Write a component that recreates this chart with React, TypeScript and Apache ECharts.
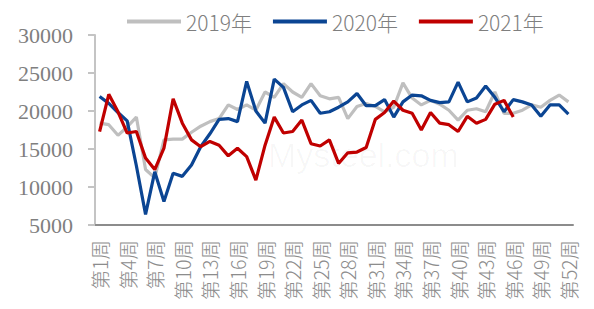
import React, { useEffect, useRef } from "react";
import * as echarts from "echarts";

const weeks: string[] = Array.from({ length: 52 }, (_, i) => `第${i + 1}周`);

const legendNames = ["2019年", "2020年", "2021年"];

const data2019: number[] = [
  18400, 18200, 16800, 17900, 19200, 12300, 11200, 16200, 16300, 16300,
  17200, 18000, 18600, 19000, 20800, 20200, 20800, 20100, 22500, 21800,
  23600, 22500, 21800, 23600, 22000, 21600, 21800, 19000, 20600, 21000,
  20600, 19900, 20500, 23700, 21700, 20800, 21400, 20900, 20100, 18800,
  20100, 20300, 19900, 22500, 19700, 19700, 20100, 20800, 20500, 21400,
  22100, 21200,
];

const data2020: number[] = [
  21900, 21000, 19800, 18700, 12800, 6400, 12000, 8100, 11800, 11400,
  12900, 15300, 17000, 18900, 19000, 18600, 23900, 20000, 18400, 24200,
  23100, 19900, 20800, 21400, 19700, 19900, 20500, 21200, 22300, 20700,
  20700, 21500, 19200, 21200, 22100, 22000, 21400, 21100, 21200, 23800,
  21200, 21700, 23300, 21800, 19900, 21500, 21200, 20800, 19300, 20800,
  20800, 19600,
];

const data2021: number[] = [
  17300, 22200, 19900, 17100, 17300, 13800, 12300, 15100, 21600, 18400,
  16200, 15300, 16000, 15500, 14100, 15100, 14000, 10900, 15500, 19200,
  17100, 17300, 18800, 15700, 15400, 16200, 13100, 14500, 14600, 15200,
  18900, 19800, 21300, 20100, 19700, 17500, 19800, 18400, 18200, 17300,
  19300, 18400, 18900, 20900, 21400, 19200,
];

const colors = ["#bfbfbf", "#0b4593", "#c00000"];

export default function App() {
  const ref = useRef<HTMLDivElement>(null);
  useEffect(() => {
    document.body.style.margin = "0";
    if (!ref.current) return;
    const chart = echarts.init(ref.current, undefined, { renderer: "svg" });
    const seriesData = [data2019, data2020, data2021];
    chart.setOption({
      animation: false,
      backgroundColor: "#ffffff",
      color: colors,
      graphic: [
        {
          type: "text",
          left: 268,
          top: 138,
          z: 0,
          style: {
            text: "Mysteel.com",
            fontSize: 34,
            fontFamily: "Arial, Liberation Sans",
            fill: "rgba(0,0,0,0.03)",
          },
        },
      ],
      legend: {
        left: 122,
        top: 6,
        icon: "rect",
        itemWidth: 54,
        itemHeight: 4,
        itemGap: 21,
        textStyle: {
          fontSize: 21,
          color: "#7f7f7f",
          fontFamily: "Noto Sans CJK SC",
          fontWeight: 300,
        },
        data: legendNames,
      },
      grid: { left: 95, right: 21, top: 35, bottom: 84, containLabel: false },
      xAxis: {
        type: "category",
        data: weeks,
        boundaryGap: true,
        axisLine: { lineStyle: { color: "#8c8c8c", width: 2 } },
        axisTick: { interval: 1, length: 6, lineStyle: { color: "#8c8c8c", width: 2 } },
        axisLabel: {
          interval: 2,
          rotate: 90,
          margin: 15,
          fontSize: 19.5,
          color: "#8c8c8c",
          fontFamily: "Noto Sans CJK SC",
          fontWeight: 300,
        },
        splitLine: { show: false },
      },
      yAxis: {
        type: "value",
        min: 5000,
        max: 30000,
        interval: 5000,
        axisLine: { show: true, lineStyle: { color: "#c4c4c4", width: 2 } },
        axisTick: { show: true, length: 7, lineStyle: { color: "#c4c4c4", width: 2 } },
        axisLabel: {
          margin: 22,
          fontSize: 22,
          color: "#7f7f7f",
          fontFamily: "Liberation Serif",
          formatter: (v: number) => String(v),
        },
        splitLine: { show: false },
      },
      series: legendNames.map((name, i) => ({
        name,
        type: "line",
        data: seriesData[i],
        symbol: "none",
        lineStyle: { width: 3.2, color: colors[i] },
        itemStyle: { color: colors[i] },
        z: 2 + i,
      })),
    });
    return () => chart.dispose();
  }, []);
  return (
    <div
      ref={ref}
      style={{ position: "fixed", left: 0, top: 0, width: 594, height: 309 }}
    />
  );
}
